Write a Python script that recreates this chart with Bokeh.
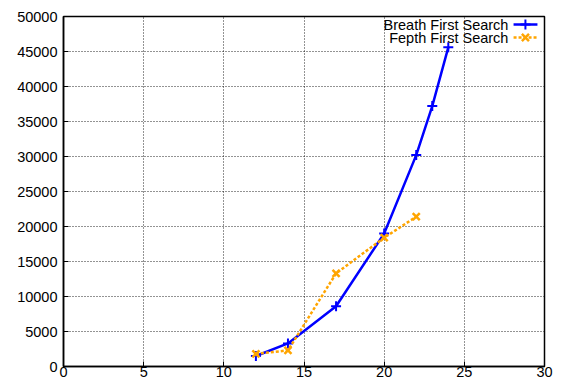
from bokeh.plotting import figure
from bokeh.models import Range1d, FixedTicker, Label
from bokeh.embed import file_html
from bokeh.resources import INLINE

bfs_x = [12, 14, 17, 20, 22, 23, 24]
bfs_y = [1500, 3300, 8600, 19000, 30200, 37200, 45600]
dfs_x = [12, 14, 17, 20, 22]
dfs_y = [1800, 2300, 13300, 18400, 21400]
x_ticks = [0, 5, 10, 15, 20, 25, 30]
y_ticks = [0, 5000, 10000, 15000, 20000, 25000, 30000, 35000, 40000, 45000, 50000]
labels = ["Breath First Search", "Fepth First Search"]

BLUE = "#0000FF"
ORANGE = "#FFA500"
FONT = "Liberation Sans"
FS = "14.5px"

p = figure(frame_width=481, frame_height=350, output_backend="svg", toolbar_location=None,
           x_range=Range1d(0, 30), y_range=Range1d(0, 50000),
           min_border_left=63, min_border_top=16, min_border_right=20, min_border_bottom=15)
p.background_fill_color = "white"
p.outline_line_color = "black"
p.outline_line_width = 1.5

for ax, ticks in ((p.xaxis, x_ticks), (p.yaxis, y_ticks)):
    ax.ticker = FixedTicker(ticks=ticks)
    ax.major_tick_in = 5
    ax.major_tick_out = 0
    ax.minor_tick_line_color = None
    ax.axis_line_color = "black"
    ax.axis_line_width = 1.5
    ax.major_label_text_font = FONT
    ax.major_label_text_font_size = FS
    ax.major_label_text_color = "black"
p.xaxis.major_label_standoff = 0
p.yaxis.major_label_standoff = 6

for g in (p.xgrid, p.ygrid):
    g.grid_line_color = "black"
    g.grid_line_alpha = 0.85
    g.grid_line_dash = "1 2"
    g.grid_line_width = 1

# data
p.line(bfs_x, bfs_y, line_color=BLUE, line_width=2.5)
p.scatter(bfs_x, bfs_y, marker="cross", size=10, line_color=BLUE, line_width=2)
p.line(dfs_x, dfs_y, line_color=ORANGE, line_width=2.5, line_dash="3 2")
p.scatter(dfs_x, dfs_y, marker="x", size=10, line_color=ORANGE, line_width=2.5)

# legend (gnuplot style: text right-aligned, sample on the right)
leg_y = [48850, 47000]
txt_x = 27.75
ls_x0, ls_x1, lm_x = 28.07, 29.56, 28.81
for i, lab in enumerate(labels):
    p.add_layout(Label(x=txt_x, y=leg_y[i], text=lab, text_align="right", text_baseline="middle",
                       text_font=FONT, text_font_size=FS, text_color="black"))
p.line([ls_x0, ls_x1], [leg_y[0]] * 2, line_color=BLUE, line_width=2.5)
p.scatter([lm_x], [leg_y[0]], marker="cross", size=10, line_color=BLUE, line_width=2)
p.line([ls_x0, ls_x1], [leg_y[1]] * 2, line_color=ORANGE, line_width=2.5, line_dash="3 2")
p.scatter([lm_x], [leg_y[1]], marker="x", size=10, line_color=ORANGE, line_width=2.5)

open("out.html", "w").write(file_html(p, INLINE))
